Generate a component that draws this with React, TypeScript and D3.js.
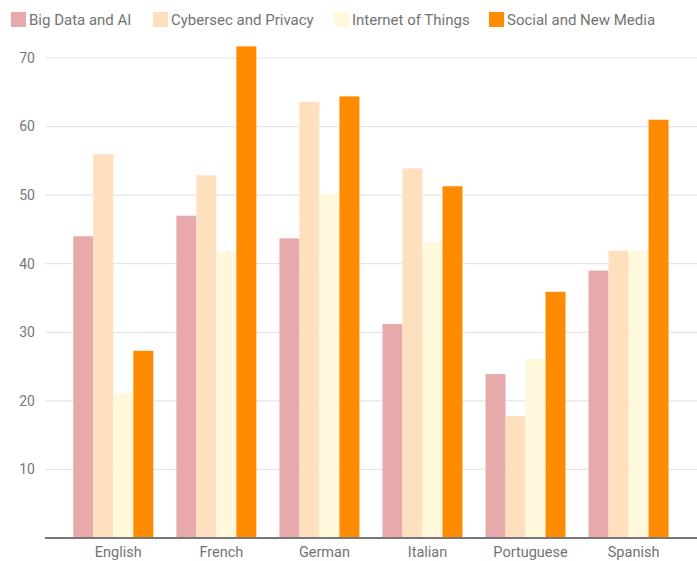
import React from "react";
import * as d3 from "d3";

const languages = ["English", "French", "German", "Italian", "Portuguese", "Spanish"];
const seriesNames = ["Big Data and AI", "Cybersec and Privacy", "Internet of Things", "Social and New Media"];
const bigDataAI = [44, 47, 43.7, 31.2, 23.9, 39];
const cybersecPrivacy = [56, 52.9, 63.6, 53.9, 17.8, 41.9];
const internetOfThings = [21.1, 41.9, 50.2, 43.2, 26.1, 41.9];
const socialNewMedia = [27.3, 71.7, 64.4, 51.3, 35.9, 61];
const yTicks = [10, 20, 30, 40, 50, 60, 70];

const colors = ["#e8a9aa", "#fee0bf", "#fff8dc", "#ff8c00"];
const seriesValues = [bigDataAI, cybersecPrivacy, internetOfThings, socialNewMedia];

const W = 697;
const H = 561;
const FONT = "Roboto, 'Noto Sans', sans-serif";

export default function App() {
  const y = d3.scaleLinear().domain([0, 70]).range([538, 58]);
  const x0 = d3.scaleBand<string>().domain(languages).range([61.8, 680.1]).paddingInner(0.2237).paddingOuter(0.1118);
  const x1 = d3.scaleBand<number>().domain(d3.range(seriesNames.length)).range([0, x0.bandwidth()]).padding(0);

  const legendX = [11, 153, 334, 489];

  return (
    <svg width={W} height={H} style={{ position: "absolute", left: 0, top: 0, background: "#fff" }} fontFamily={FONT}>
      {/* legend */}
      {seriesNames.map((name, i) => (
        <g key={name} transform={`translate(${legendX[i]},0)`}>
          <rect x={0} y={12} width={15} height={15} fill={colors[i]} />
          <text x={18} y={24.5} fontSize={15} fill="#737373">{name}</text>
        </g>
      ))}

      {/* gridlines and y labels */}
      {yTicks.map((t) => (
        <g key={t}>
          <line x1={45} x2={W} y1={y(t)} y2={y(t)} stroke="#e6e6e6" strokeWidth={1.2} />
          <text x={35} y={y(t)} dy="0.35em" textAnchor="end" fontSize={14} fill="#777">{t}</text>
        </g>
      ))}

      {/* bars */}
      {languages.map((lang, gi) => (
        <g key={lang} transform={`translate(${x0(lang)},0)`}>
          {seriesValues.map((vals, si) => (
            <rect
              key={si}
              x={x1(si)}
              y={y(vals[gi])}
              width={x1.bandwidth()}
              height={y(0) - y(vals[gi])}
              fill={colors[si]}
            />
          ))}
        </g>
      ))}

      {/* baseline */}
      <line x1={45} x2={W} y1={y(0)} y2={y(0)} stroke="#777" strokeWidth={2} />

      {/* x labels */}
      {languages.map((lang) => (
        <text
          key={lang}
          x={(x0(lang) ?? 0) + x0.bandwidth() / 2 + 5}
          y={557}
          textAnchor="middle"
          fontSize={14.5}
          fill="#737373"
        >
          {lang}
        </text>
      ))}
    </svg>
  );
}
